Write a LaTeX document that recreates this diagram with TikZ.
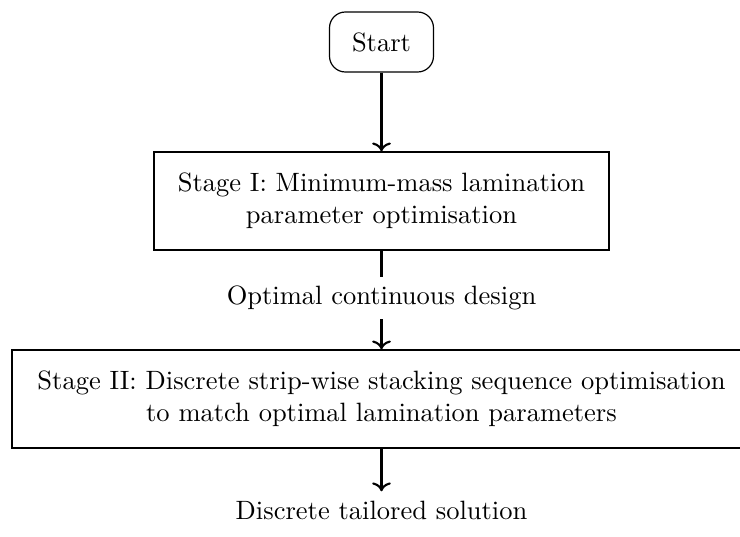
\documentclass[tikz,border=0pt]{standalone}
\usetikzlibrary{arrows.meta}
\tikzset{
  boxnode/.style={draw, line width=0.45pt, align=center, inner sep=0pt, minimum height={98*0.3774pt}},
  startnode/.style={draw, line width=0.45pt, rounded corners=6pt, inner sep=0pt, minimum width={104*0.3774pt}, minimum height={60*0.3774pt}},
  plain/.style={align=center},
  flow/.style={thick, ->},
  link/.style={thick}
}
\begin{document}
\begin{tikzpicture}[x=0.3774pt, y=-0.3774pt]
\useasboundingbox (0,0) rectangle (740,536);
\node[startnode] (start) at (381.5,42) {Start};
\node[boxnode, minimum width={455*0.3774pt}] (s1) at (381.5,201) {Stage I: Minimum-mass lamination\\parameter optimisation};
\node[plain] (mid) at (381.5,298) {Optimal continuous design};
\node[boxnode, minimum width={739*0.3774pt}] (s2) at (381.5,399) {Stage II: Discrete strip-wise stacking sequence optimisation\\to match optimal lamination parameters};
\node[plain] (end) at (381.5,510) {Discrete tailored solution};
\draw[flow] (start) -- (s1);
\draw[link] (s1) -- (mid);
\draw[flow] (mid) -- (s2);
\draw[flow] (s2) -- (end);
\end{tikzpicture}
\end{document}
